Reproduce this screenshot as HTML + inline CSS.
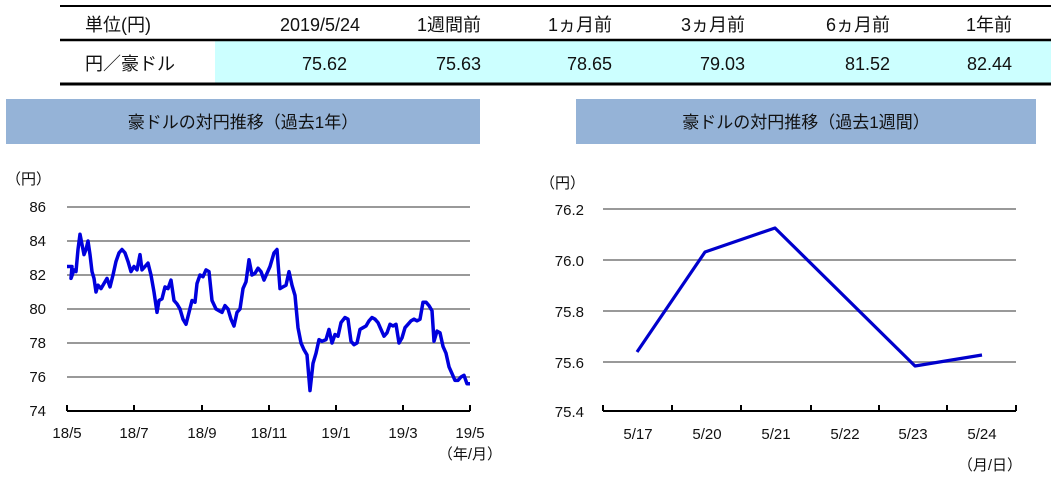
<!DOCTYPE html>
<html><head><meta charset="utf-8"><style>
body{margin:0;width:1051px;height:481px;background:#fff;overflow:hidden;font-family:"Liberation Sans","Noto Sans CJK JP",sans-serif;}
svg{position:absolute;left:0;top:0}
</style></head><body>
<svg width="1051" height="481" xmlns="http://www.w3.org/2000/svg" font-family="Liberation Sans, Noto Sans CJK JP, sans-serif">
<rect x="215" y="41" width="836" height="42" fill="#ccffff"/>
<line x1="60" y1="6" x2="1051" y2="6" stroke="#000" stroke-width="2"/>
<line x1="60" y1="40" x2="1051" y2="40" stroke="#000" stroke-width="2.5"/>
<line x1="60" y1="84" x2="1051" y2="84" stroke="#000" stroke-width="3"/>
<g font-size="18" fill="#111">
<text x="85" y="31">単位(円)</text>
<text x="320" y="31" text-anchor="middle">2019/5/24</text>
<text x="481" y="31" text-anchor="end">1週間前</text>
<text x="612" y="31" text-anchor="end">1ヵ月前</text>
<text x="745" y="31" text-anchor="end">3ヵ月前</text>
<text x="890" y="31" text-anchor="end">6ヵ月前</text>
<text x="1012" y="31" text-anchor="end">1年前</text>
<text x="85" y="70">円／豪ドル</text>
<text x="347" y="70" text-anchor="end">75.62</text>
<text x="481" y="70" text-anchor="end">75.63</text>
<text x="612" y="70" text-anchor="end">78.65</text>
<text x="745" y="70" text-anchor="end">79.03</text>
<text x="890" y="70" text-anchor="end">81.52</text>
<text x="1012" y="70" text-anchor="end">82.44</text>
</g>
<rect x="6" y="99" width="474" height="45" fill="#95b3d7"/>
<rect x="576" y="99" width="460" height="45" fill="#95b3d7"/>
<text x="243" y="128" font-size="17" text-anchor="middle" fill="#111">豪ドルの対円推移（過去1年）</text>
<text x="806" y="128" font-size="17" text-anchor="middle" fill="#111">豪ドルの対円推移（過去1週間）</text>

<g font-size="15" fill="#111">
<text x="6" y="184">（円）</text>
<g stroke="#999" stroke-width="2">
<line x1="67" y1="207" x2="470" y2="207"/><line x1="67" y1="241" x2="470" y2="241"/><line x1="67" y1="275" x2="470" y2="275"/><line x1="67" y1="309" x2="470" y2="309"/><line x1="67" y1="343" x2="470" y2="343"/><line x1="67" y1="377" x2="470" y2="377"/>
</g>
<g text-anchor="end"><text x="46" y="212">86</text><text x="46" y="246">84</text><text x="46" y="280">82</text><text x="46" y="314">80</text><text x="46" y="348">78</text><text x="46" y="382">76</text><text x="46" y="416">74</text></g>
<g stroke="#000" stroke-width="2"><line x1="67" y1="411" x2="470" y2="411"/>
<line x1="67" y1="405" x2="67" y2="411"/><line x1="134" y1="405" x2="134" y2="411"/><line x1="202" y1="405" x2="202" y2="411"/><line x1="269" y1="405" x2="269" y2="411"/><line x1="336" y1="405" x2="336" y2="411"/><line x1="403" y1="405" x2="403" y2="411"/><line x1="470" y1="405" x2="470" y2="411"/></g>
<g text-anchor="middle"><text x="67" y="438">18/5</text><text x="134" y="438">18/7</text><text x="202" y="438">18/9</text><text x="269" y="438">18/11</text><text x="336" y="438">19/1</text><text x="403" y="438">19/3</text><text x="470" y="438">19/5</text></g>
<text x="502" y="459" text-anchor="end">（年/月）</text>
<polyline id="p1" fill="none" stroke="#0000dd" stroke-width="3.5" stroke-linejoin="round"/>

<text x="540" y="188">（円）</text>
<g stroke="#999" stroke-width="2">
<line x1="603" y1="209" x2="1016" y2="209"/><line x1="603" y1="260" x2="1016" y2="260"/><line x1="603" y1="311" x2="1016" y2="311"/><line x1="603" y1="362" x2="1016" y2="362"/>
</g>
<g text-anchor="end"><text x="584" y="215">76.2</text><text x="584" y="266">76.0</text><text x="584" y="317">75.8</text><text x="584" y="368">75.6</text><text x="584" y="417">75.4</text></g>
<g stroke="#000" stroke-width="2"><line x1="603" y1="411" x2="1016" y2="411"/>
<line x1="603" y1="405" x2="603" y2="411"/><line x1="672" y1="405" x2="672" y2="411"/><line x1="741" y1="405" x2="741" y2="411"/><line x1="811" y1="405" x2="811" y2="411"/><line x1="879" y1="405" x2="879" y2="411"/><line x1="947" y1="405" x2="947" y2="411"/><line x1="1016" y1="405" x2="1016" y2="411"/></g>
<g text-anchor="middle"><text x="638" y="439">5/17</text><text x="707" y="439">5/20</text><text x="776" y="439">5/21</text><text x="845" y="439">5/22</text><text x="913" y="439">5/23</text><text x="982" y="439">5/24</text></g>
<text x="1022" y="470" text-anchor="end">（月/日）</text>
<polyline points="637,352 705,252 775,228 915,366 982,355" fill="none" stroke="#0000cc" stroke-width="3.2" stroke-linejoin="round"/>
</g>
</svg>
<script>
var d=[67,82.5,72,82.5,71,81.8,74,82.3,76,82.2,78,83.5,80,84.4,82,83.8,84,83.2,86,83.5,88,84,90,83.2,92,82.2,94,81.8,96,81,98,81.4,101,81.2,104,81.5,107,81.8,110,81.3,113,82,116,82.8,119,83.3,122,83.5,125,83.3,128,82.8,131,82.2,134,82.5,137,82.3,140,83.2,142,82.3,145,82.5,148,82.7,151,82,154,81,157,79.8,159,80.5,162,80.6,165,81.3,168,81.2,171,81.7,174,80.5,177,80.3,180,80,183,79.4,186,79.1,189,79.8,192,80.5,195,80.4,197,81.5,200,82,203,81.9,206,82.3,209,82.2,212,80.5,216,80,219,79.9,222,79.8,225,80.2,228,80,231,79.4,234,79,237,79.8,240,80,243,81.2,246,81.6,249,82.9,252,82,255,82.1,258,82.4,261,82.2,264,81.7,267,82.1,270,82.5,274,83.3,277,83.5,280,81.2,283,81.3,286,81.4,289,82.2,292,81.4,295,80.8,298,78.9,301,78,304,77.6,307,77.3,310,75.2,313,76.8,316,77.4,319,78.2,322,78.1,326,78.2,329,78.8,332,78,335,78.5,338,78.4,341,79.2,345,79.5,348,79.4,351,78.1,354,77.9,357,78,360,78.8,363,78.9,366,79,369,79.3,372,79.5,375,79.4,378,79.2,381,78.8,384,78.4,387,78.6,390,79.1,393,79,396,79.1,399,78,402,78.3,405,78.9,408,79.1,411,79.3,414,79.4,417,79.3,420,79.4,423,80.4,426,80.4,429,80.2,432,79.9,434,78.1,437,78.7,440,78.6,443,77.8,446,77.4,449,76.6,452,76.2,455,75.8,458,75.8,461,76,464,76.1,467,75.6,470,75.6];
var s=[];for(var i=0;i<d.length;i+=2)s.push(d[i]+","+(411-(d[i+1]-74)*17).toFixed(1));
document.getElementById("p1").setAttribute("points",s.join(" "));
</script>
</body></html>
